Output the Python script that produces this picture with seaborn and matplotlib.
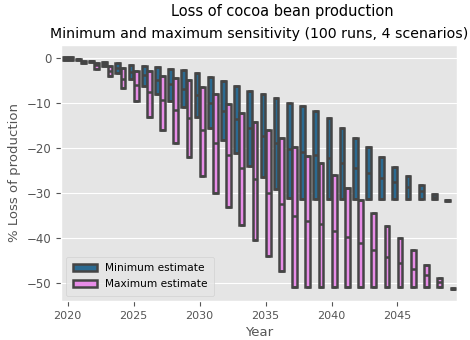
import matplotlib
matplotlib.use("Agg")
import matplotlib.pyplot as plt
import pandas as pd
import seaborn as sns

years = list(range(2020, 2050))

# Minimum estimate: upper end, median, lower end of each yearly box (% change)
min_upper = [0.3, -0.2, -0.66, -0.9, -1.1, -1.5, -1.8, -2.0, -2.4, -2.6,
             -3.3, -4.3, -5.1, -6.2, -7.3, -8.1, -8.8, -9.9, -10.6, -11.7,
             -13.4, -15.6, -17.8, -19.8, -21.9, -24.1, -26.1, -28.1, -30.1, -31.5]
min_median = [0.0, -0.3, -0.77, -1.3, -2.2, -3.1, -3.8, -5.0, -5.8, -6.8,
              -8.2, -10.1, -11.7, -13.6, -15.6, -17.4, -18.9, -20.3, -20.9, -21.6,
              -22.2, -23.3, -24.4, -25.5, -26.7, -27.5, -28.6, -29.5, -30.8, -31.6]
min_lower = [-0.4, -0.5, -1.0, -1.8, -3.3, -4.6, -6.2, -8.0, -9.5, -10.9,
             -13.1, -15.6, -18.3, -21.1, -24.0, -26.5, -29.1, -31.1, -31.3, -31.3,
             -31.3, -31.3, -31.3, -31.3, -31.3, -31.3, -31.3, -31.3, -31.3, -31.7]

# Maximum estimate: upper end, median, lower end of each yearly box (% change)
max_upper = [0.2, -0.7, -1.1, -1.8, -2.2, -2.9, -3.0, -4.0, -4.4, -4.9,
             -6.5, -8.1, -10.3, -12.3, -14.2, -16.0, -17.8, -19.7, -21.8, -23.3,
             -25.9, -28.8, -31.4, -34.4, -37.3, -39.9, -42.7, -45.9, -48.7, -51.1]
max_median = [-0.1, -0.9, -1.65, -2.9, -4.6, -6.0, -7.6, -9.4, -11.6, -13.4,
              -15.9, -18.9, -21.5, -24.4, -26.9, -29.9, -32.4, -35.1, -36.1, -36.9,
              -38.3, -39.8, -41.1, -42.6, -44.2, -45.5, -46.8, -48.1, -49.8, -51.2]
max_lower = [-0.5, -1.1, -2.4, -4.0, -6.6, -9.5, -13.0, -16.1, -18.9, -22.0,
             -26.2, -29.9, -33.1, -37.0, -40.3, -44.0, -47.3, -50.7, -50.7, -50.7,
             -50.7, -50.7, -50.7, -50.7, -50.7, -50.7, -50.7, -50.7, -50.7, -51.3]

estimates = ["Minimum estimate", "Maximum estimate"]
colors = ["#2b6a91", "#e88de8"]

# Long-form table: each box is described by its two ends and median, so the
# quartiles land on the ends and the whiskers collapse onto the box.
rows = []
for name, up, md, lo in [(estimates[0], min_upper, min_median, min_lower),
                         (estimates[1], max_upper, max_median, max_lower)]:
    for yr, u, m, l in zip(years, up, md, lo):
        for v in (l, l, m, u, u):
            rows.append({"Year": yr, "Estimate": name, "Loss": v})
df = pd.DataFrame(rows)

plt.style.use("ggplot")
fig = plt.figure(figsize=(4.7, 3.4), dpi=100)
ax = fig.add_axes([0.13, 0.115, 0.842, 0.753])

sns.boxplot(data=df, x="Year", y="Loss", hue="Estimate", hue_order=estimates,
            palette=colors, saturation=1, whis=(0, 100), showfliers=False,
            width=0.8, gap=0.1, linewidth=1.8, linecolor="#454545", ax=ax)

ax.set_xticks(range(0, len(years), 5))
ax.set_xticklabels([str(y) for y in years[::5]], fontsize=8)
ax.tick_params(axis="y", labelsize=8.5)
ax.set_xlim(-0.5, len(years) - 0.5)
ax.set_xlabel("Year", fontsize=9.5, color="#555555")
ax.set_ylabel("% Loss of production", fontsize=9.5, color="#555555")
ax.set_title("Minimum and maximum sensitivity (100 runs, 4 scenarios)",
             fontsize=10.2, color="black", pad=5)
fig.text(0.6, 0.965, "Loss of cocoa bean production", ha="center", va="center",
         fontsize=10.5, color="black")

handles, labels = ax.get_legend_handles_labels()
ax.legend(handles, labels, loc="lower left", fontsize=7.6, frameon=True,
          handlelength=2.3, labelspacing=0.6, borderpad=0.6)

fig.savefig("out.png", dpi=100)
